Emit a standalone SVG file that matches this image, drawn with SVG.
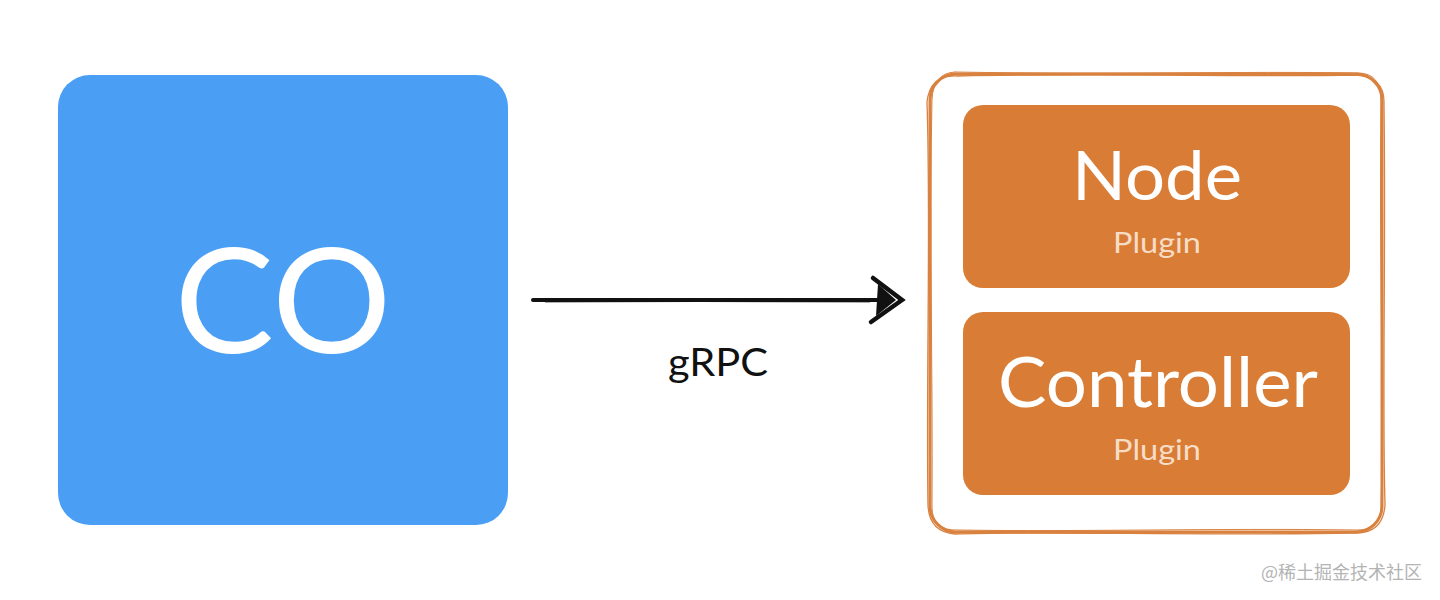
<svg xmlns="http://www.w3.org/2000/svg" width="1440" height="600" viewBox="0 0 1440 600">
<style>
.txt{font-family:"Lato","Liberation Sans",sans-serif;text-anchor:middle}
.w{fill:#ffffff}
.sub{fill:#f7dcc6}
.frame{fill:none;stroke:#d9813f;stroke-linecap:round}
.card{fill:#d97d36}
</style>
<rect width="1440" height="600" fill="#ffffff"/>
<g id="co">
  <rect x="58" y="75" width="450" height="450" rx="32" fill="#4a9ff5"/>
  <text class="txt w" x="283" y="353" font-size="146" textLength="217" lengthAdjust="spacingAndGlyphs">CO</text>
</g>
<g id="plugins">
  <rect class="frame" x="930" y="74" width="452" height="458" rx="26" stroke-width="3"/>
  <path class="frame" stroke-width="1.3" d="M958 76 C1100 73 1250 77 1356 75 Q1385 77 1384 104 C1386 250 1382 400 1385 505 Q1383 534 1354 533 C1200 536 1050 531 955 534 Q929 532 928 505 C926 380 931 220 927 102 Q930 74 958 76"/>
  <path class="frame" stroke-width="1" d="M955 72 C1120 75 1240 71 1358 73 Q1381 73 1381 100 C1379 260 1384 390 1381 508 Q1381 530 1357 530 C1210 528 1080 532 958 530 Q932 531 932 507 C933 370 929 230 932 100 Q933 73 955 72"/>
</g>
<g id="node-plugin">
  <rect class="card" x="963" y="105" width="387" height="183" rx="20"/>
  <text class="txt w" x="1157" y="200" font-size="68" textLength="170" lengthAdjust="spacingAndGlyphs">Node</text>
  <text class="txt sub" x="1157" y="253" font-size="28" textLength="88" lengthAdjust="spacingAndGlyphs">Plugin</text>
</g>
<g id="controller-plugin">
  <rect class="card" x="963" y="312" width="387" height="183" rx="20"/>
  <text class="txt w" x="1158" y="407" font-size="70" textLength="320" lengthAdjust="spacingAndGlyphs">Controller</text>
  <text class="txt sub" x="1157" y="460" font-size="28" textLength="88" lengthAdjust="spacingAndGlyphs">Plugin</text>
</g>
<g id="connectors">
  <path d="M533 300 L880 300" stroke="#111" stroke-width="4" fill="none" stroke-linecap="round"/>
  <path d="M545 301.5 L700 301 L870 301.5" stroke="#111" stroke-width="2" fill="none" opacity="0.7"/>
  <path d="M873 278 L902 300 L871 322" stroke="#111" stroke-width="4.5" fill="none" stroke-linejoin="miter" stroke-linecap="round"/>
  <path d="M878 284 L896 300 L876 316 Z" fill="#111"/>
  <text class="txt" x="718" y="376" font-size="38" fill="#111" textLength="100" lengthAdjust="spacingAndGlyphs">gRPC</text>
</g>
<text x="1422" y="579" font-size="18" fill="#b4b4b4" text-anchor="end" font-family="'Noto Sans CJK SC',sans-serif">@稀土掘金技术社区</text>
</svg>
